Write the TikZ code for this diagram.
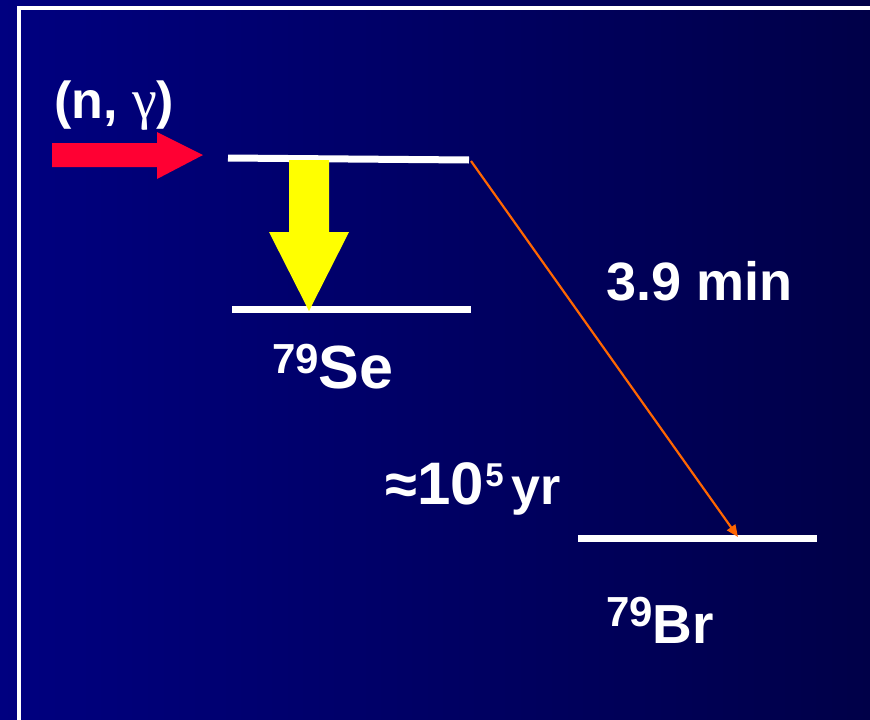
\documentclass[tikz,border=0pt]{standalone}
\usepackage{fontspec}
\setmainfont{Liberation Sans}
\newfontfamily\greekserif{Liberation Serif}
\usetikzlibrary{arrows.meta}
\definecolor{bgleft}{RGB}{0,0,128}
\definecolor{bgright}{RGB}{0,0,72}
\definecolor{redarrow}{RGB}{255,0,51}
\definecolor{yellowarrow}{RGB}{255,255,0}
\definecolor{orangeline}{RGB}{255,102,0}
\tikzset{
  level/.style={draw=white, line width=7pt},
  lbl/.style={text=white, inner sep=0pt, anchor=base west, font=\bfseries},
  decay/.style={draw=orangeline, line width=2.2pt, -{Triangle[length=12pt,width=10pt]}},
}
\begin{document}
\begin{tikzpicture}[x=1pt,y=-1pt]
\useasboundingbox (0,0) rectangle (870,720);
\clip (0,0) rectangle (870,720);
\shade[left color=bgleft, right color=bgright] (0,0) rectangle (870,720);
% frame
\draw[white, line width=4pt] (19,8) rectangle (890,740);
% levels
\coordinate (se1L) at (228,158);
\coordinate (se1R) at (469,160);
\coordinate (se0L) at (232,309.5);
\coordinate (se0R) at (471,309.5);
\coordinate (brL) at (578,538.5);
\coordinate (brR) at (817,538.5);
\draw[level] (se1L) -- (se1R);
\draw[level] (se0L) -- (se0R);
\draw[level] (brL) -- (brR);
% red capture arrow
\fill[redarrow] (52,143) -- (157,143) -- (157,132) -- (203,155) -- (157,179) -- (157,167) -- (52,167) -- cycle;
% yellow isomeric arrow
\fill[yellowarrow] (289,160) -- (329,160) -- (329,232) -- (349,232) -- (309,311) -- (269,232) -- (289,232) -- cycle;
% beta decay
\coordinate (brHit) at (738,537);
\draw[decay] (471,161) -- (brHit);
% labels
\node[lbl] (ng) at (54,118) {\fontsize{52}{60}\selectfont (n, {\greekserif\mdseries\fontsize{56}{60}\selectfont γ})};
\node[lbl] (t1) at (606,300) {\fontsize{54}{60}\selectfont 3.9 min};
\node[lbl] (se) at (272,388) {\raisebox{15pt}{\fontsize{42}{44}\selectfont 79}\fontsize{61}{64}\selectfont Se};
\node[lbl] (t2) at (385,504) {\fontsize{58}{60}\selectfont ≈\fontsize{60}{60}\selectfont 10\kern1.5pt\raisebox{18pt}{\fontsize{33}{34}\selectfont 5}\fontsize{30}{32}\selectfont\ \fontsize{52}{60}\selectfont yr};
\node[lbl] (br) at (606,643) {\raisebox{17pt}{\fontsize{42}{44}\selectfont 79}\fontsize{55}{60}\selectfont Br};
\end{tikzpicture}
\end{document}
